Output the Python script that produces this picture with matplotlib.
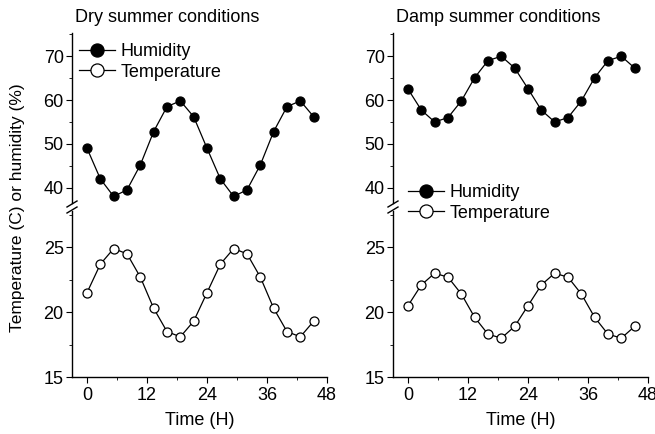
import matplotlib
matplotlib.use("Agg")
import matplotlib.pyplot as plt
from matplotlib.lines import Line2D
from matplotlib.ticker import MultipleLocator

plt.rcParams.update({
    "font.family": ["Liberation Sans", "DejaVu Sans"],
    "font.size": 13,
    "axes.linewidth": 1.0,
    "xtick.direction": "out",
    "ytick.direction": "out",
    "xtick.major.size": 4,
    "ytick.major.size": 4,
    "xtick.minor.size": 2.5,
    "ytick.minor.size": 2.5,
})

# Time of measurement (hours)
hours = [0, 2.67, 5.33, 8, 10.67, 13.33, 16, 18.67, 21.33,
         24, 26.67, 29.33, 32, 34.67, 37.33, 40, 42.67, 45.33]

dry_humidity = [49, 42, 38, 39.5, 45.2, 52.8, 58.5, 59.8, 56.2,
                49, 42, 38, 39.5, 45.2, 52.8, 58.5, 59.8, 56.2]
dry_temperature = [21.5, 23.7, 24.9, 24.5, 22.7, 20.3, 18.5, 18.1, 19.3,
                   21.5, 23.7, 24.9, 24.5, 22.7, 20.3, 18.5, 18.1, 19.3]

damp_humidity = [62.5, 57.7, 55, 56, 59.8, 65.1, 69, 70, 67.3,
                 62.6, 57.7, 55, 56, 59.8, 65.1, 69, 70, 67.3]
damp_temperature = [20.5, 22.1, 23, 22.7, 21.4, 19.6, 18.3, 18, 18.9,
                    20.5, 22.1, 23, 22.7, 21.4, 19.6, 18.3, 18, 18.9]

panels = [
    ("Dry summer conditions", dry_humidity, dry_temperature),
    ("Damp summer conditions", damp_humidity, damp_temperature),
]

W, H = 655, 434
fig = plt.figure(figsize=(W / 100, H / 100), dpi=100)

lefts = [72, 393]
ax_w = 255
up_top, up_bot = 33, 203
lo_top, lo_bot = 211, 377


def fx(px):
    return px / W


def fy(py):
    return 1 - py / H


for i, (title, hum, temp) in enumerate(panels):
    l = lefts[i]
    ax_up = fig.add_axes([fx(l), fy(up_bot), ax_w / W, (up_bot - up_top) / H])
    ax_lo = fig.add_axes([fx(l), fy(lo_bot), ax_w / W, (lo_bot - lo_top) / H])

    h_line, = ax_up.plot(hours, hum, "-o", color="black", lw=0.9, ms=6.5,
                         mfc="black", mec="black", mew=0.9, label="Humidity")
    t_line, = ax_lo.plot(hours, temp, "-o", color="black", lw=0.9, ms=6.5,
                         mfc="white", mec="black", mew=0.9, label="Temperature")

    ax_up.set_ylim(36.5, 75.3)
    ax_lo.set_ylim(15, 27.8)
    for ax in (ax_up, ax_lo):
        ax.set_xlim(-3, 48)
        ax.spines["top"].set_visible(False)
        ax.spines["right"].set_visible(False)
        ax.xaxis.set_major_locator(MultipleLocator(12))
        ax.xaxis.set_minor_locator(MultipleLocator(6))
        ax.patch.set_alpha(0)
    ax_up.yaxis.set_major_locator(MultipleLocator(10))
    ax_up.yaxis.set_minor_locator(MultipleLocator(5))
    ax_lo.yaxis.set_major_locator(MultipleLocator(5))
    ax_lo.yaxis.set_minor_locator(MultipleLocator(2.5))
    ax_up.set_yticks([40, 50, 60, 70])
    ax_up.spines["bottom"].set_visible(False)
    ax_up.tick_params(axis="x", which="both", bottom=False, labelbottom=False)
    ax_up.tick_params(axis="y", pad=2)
    ax_lo.tick_params(axis="y", pad=2)
    ax_lo.tick_params(axis="x", pad=3)
    ax_lo.set_xlabel("Time (H)", labelpad=6)

    fig.text(fx(l + 3), fy(18), title, ha="left", va="center", fontsize=13)

    # break marks on the left spine
    for yb in (up_bot + 1, lo_top - 1):
        fig.add_artist(Line2D([fx(l - 5), fx(l + 5)], [fy(yb + 3), fy(yb - 3)],
                              color="black", lw=1.0))

    if i == 0:
        anchor = (fx(l + 7), fy(43))
    else:
        anchor = (fx(l + 15), fy(184))
    fig.legend([h_line, t_line], ["Humidity", "Temperature"], loc="upper left",
               bbox_to_anchor=anchor, frameon=False, handlelength=2.0,
               handletextpad=0.3, labelspacing=0.2, markerscale=1.45,
               borderaxespad=0, borderpad=0, fontsize=13)

fig.text(fx(18), fy(208), "Temperature (C) or humidity (%)", rotation=90,
         ha="center", va="center", fontsize=12.5)

fig.savefig("out.png", dpi=100)
